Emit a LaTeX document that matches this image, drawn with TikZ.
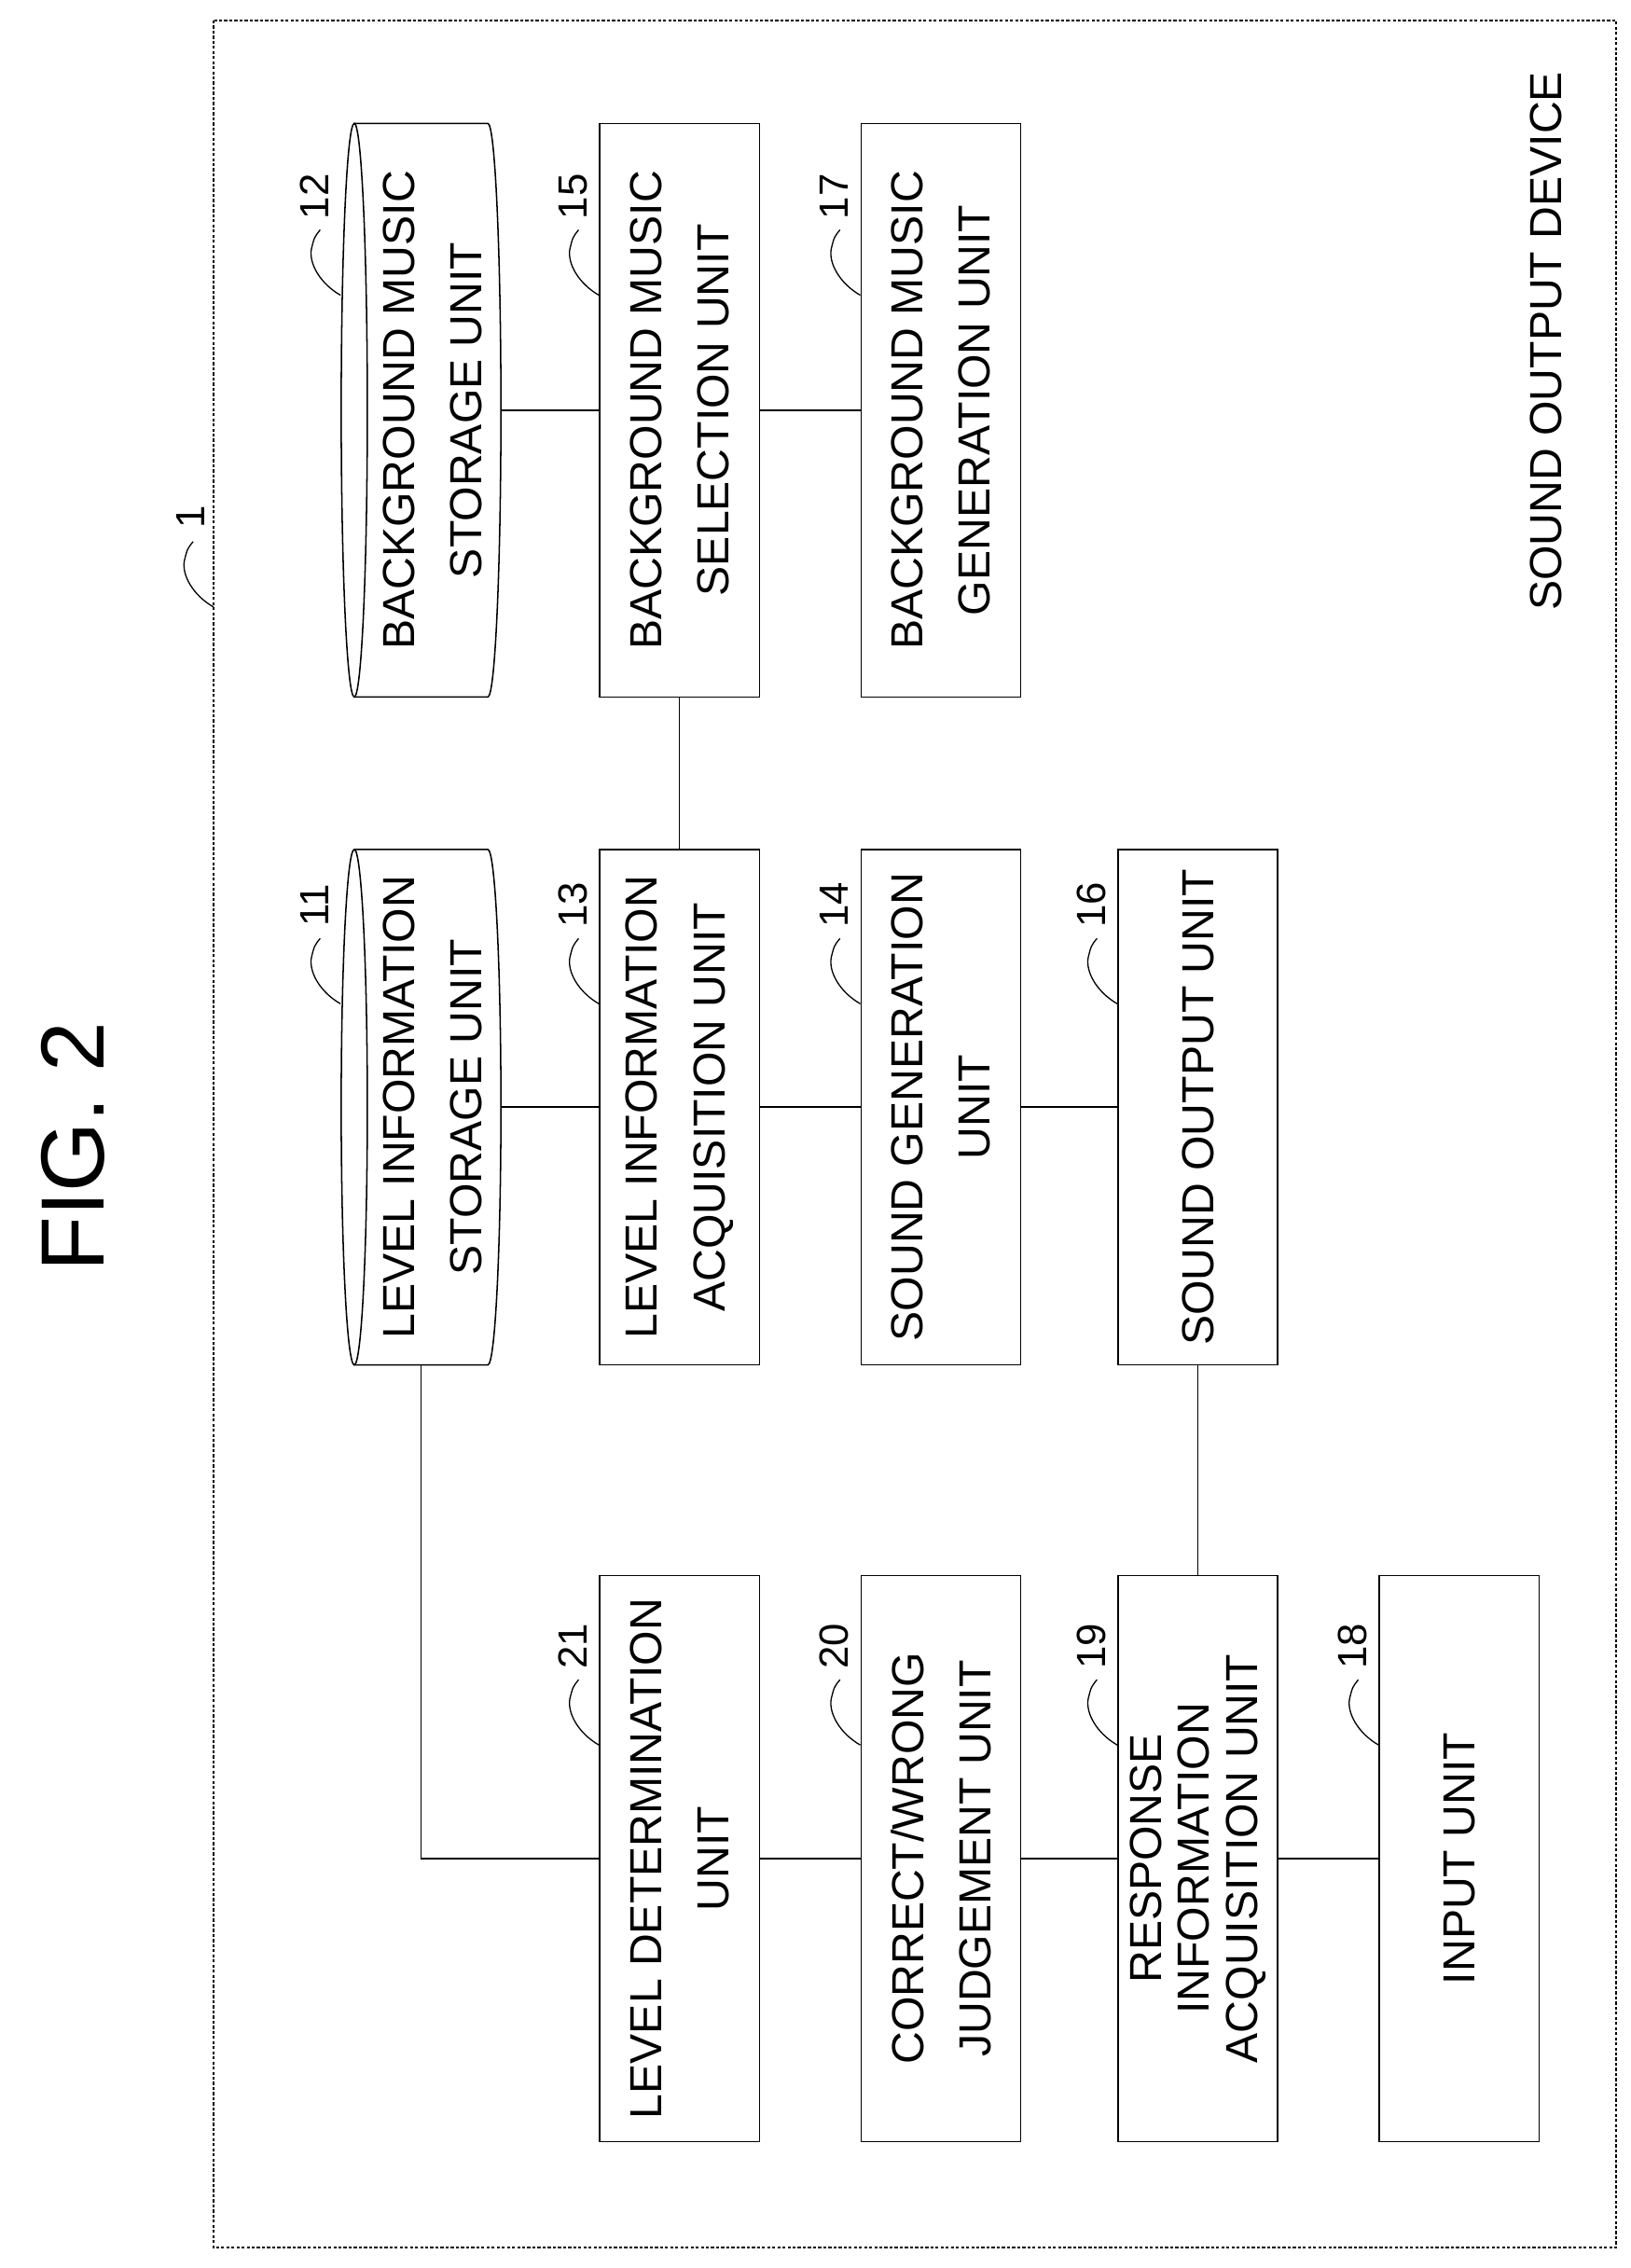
\documentclass[tikz,border=0pt]{standalone}
\usepackage{fontspec}
\setmainfont{Liberation Sans}
\usetikzlibrary{calc}
\begin{document}
\begin{tikzpicture}[x=0.05cm,y=-0.05cm,line width=1.4pt,
  lbl/.style={rotate=90,font=\fontsize{44}{66}\selectfont,align=center,inner sep=0pt},
  box/.style={lbl,draw},
  txt/.style={lbl},
  num/.style={rotate=90,font=\fontsize{40}{40}\selectfont,inner sep=0pt},
  lead/.style={line width=1.2pt}]
\useasboundingbox (0,0) rectangle (1123,1562);
\newcommand{\leader}[3]{%
  \coordinate (#3) at ($(#1.north east)!0.3!(#1.north west)$);
  \draw[lead] (#3) .. controls ($(#3)+(-14,-8)$) and ($(#3)+(-22,-22)$) .. ($(#3)+(-20,-32)$) .. controls ($(#3)+(-18,-40)$) .. ($(#3)+(-14,-45)$);
  \node[num] (l#3) at ($(#3)+(-18,-68)$) {#2};}
% outer box
\draw[dashed,dash pattern=on 3pt off 2pt,line width=1.6pt] (147,14) rectangle (1113,1548);
\node[lbl,font=\fontsize{88}{90}\selectfont] (fig) at (50,790) {FIG. 2};
\node[lbl] (dev) at (1065,235) {SOUND OUTPUT DEVICE};
% cylinders
\node[txt,minimum width=19.75cm,minimum height=5.5cm] (n12) at (290,282.5) {};
\node[txt] (t12) at (298,282.5) {BACKGROUND MUSIC\\STORAGE UNIT};
\node[txt,minimum width=17.75cm,minimum height=5.5cm] (n11) at (290,762.5) {};
\node[txt] (t11) at (298,762.5) {LEVEL INFORMATION\\STORAGE UNIT};
\draw (244,85) -- (336,85) arc[start angle=-90,end angle=90,x radius=9,y radius=197.5] -- (244,480);
\draw (244,282.5) ellipse[x radius=9,y radius=197.5];
\draw (244,585) -- (336,585) arc[start angle=-90,end angle=90,x radius=9,y radius=177.5] -- (244,940);
\draw (244,762.5) ellipse[x radius=9,y radius=177.5];
% boxes
\node[box,minimum width=19.75cm,minimum height=5.5cm] (n15) at (468,282.5) {BACKGROUND MUSIC\\SELECTION UNIT};
\node[box,minimum width=17.75cm,minimum height=5.5cm] (n13) at (468,762.5) {LEVEL INFORMATION\\ACQUISITION UNIT};
\node[box,minimum width=19.75cm,minimum height=5.5cm] (n17) at (648,282.5) {BACKGROUND MUSIC\\GENERATION UNIT};
\node[box,minimum width=17.75cm,minimum height=5.5cm] (n14) at (648,762.5) {SOUND GENERATION\\UNIT};
\node[box,minimum width=17.75cm,minimum height=5.5cm] (n16) at (825,762.5) {SOUND OUTPUT UNIT};
\node[box,minimum width=19.5cm,minimum height=5.5cm] (n21) at (468,1280) {LEVEL DETERMINATION\\UNIT};
\node[box,minimum width=19.5cm,minimum height=5.5cm] (n20) at (648,1280) {CORRECT/WRONG\\JUDGEMENT UNIT};
\node[box,minimum width=19.5cm,minimum height=5.5cm,font=\fontsize{44}{47}\selectfont] (n19) at (825,1280) {RESPONSE\\INFORMATION\\ACQUISITION UNIT};
\node[box,minimum width=19.5cm,minimum height=5.5cm] (n18) at (1005,1280) {INPUT UNIT};
% connectors
\draw (n11.south) -- (n13.north);
\draw (n13.south) -- (n14.north);
\draw (n14.south) -- (n16.north);
\draw (n12.south) -- (n15.north);
\draw (n15.south) -- (n17.north);
\draw (n13.east) -- (n15.west);
\draw (n11.west) |- (n21.north);
\draw (n21.south) -- (n20.north);
\draw (n20.south) -- (n19.north);
\draw (n19.south) -- (n18.north);
\draw (n16.west) -- (n19.east);
% leaders
\leader{n11}{11}{p11}
\leader{n12}{12}{p12}
\leader{n13}{13}{p13}
\leader{n14}{14}{p14}
\leader{n15}{15}{p15}
\leader{n16}{16}{p16}
\leader{n17}{17}{p17}
\leader{n18}{18}{p18}
\leader{n19}{19}{p19}
\leader{n20}{20}{p20}
\leader{n21}{21}{p21}
\coordinate (p1) at (147,418);
\draw[lead] (p1) .. controls ($(p1)+(-14,-8)$) and ($(p1)+(-22,-22)$) .. ($(p1)+(-20,-32)$) .. controls ($(p1)+(-18,-40)$) .. ($(p1)+(-14,-45)$);
\node[num] (l1) at ($(p1)+(-16,-62)$) {1};
\end{tikzpicture}
\end{document}
